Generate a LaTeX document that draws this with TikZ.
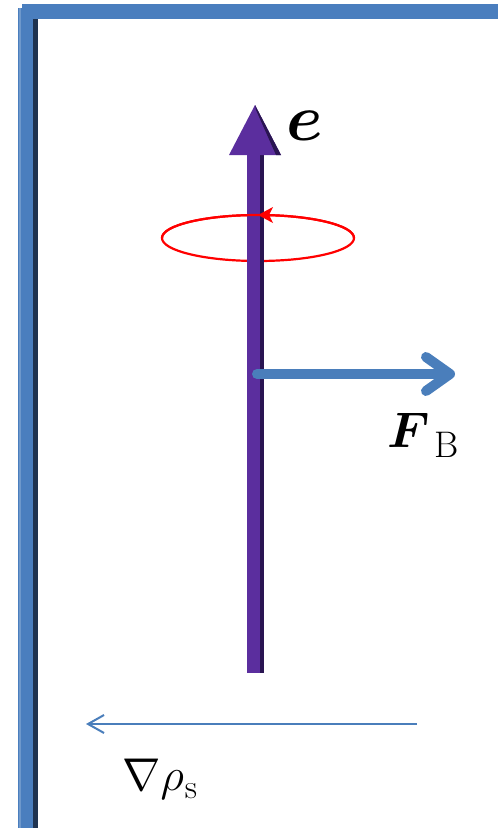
\RequirePackage{fix-cm}
\documentclass[tikz,border=0pt]{standalone}
\usepackage{amsmath,bm}
\usetikzlibrary{arrows.meta}
\definecolor{frameblue}{HTML}{4A7EBE}
\definecolor{framedark}{HTML}{1F3350}
\definecolor{arrowblue}{HTML}{4A7EBB}
\definecolor{rodpurple}{HTML}{5B2E9E}
\definecolor{roddark}{HTML}{2A1552}
\tikzset{
  force/.style={draw=arrowblue, line width=10pt, line cap=round,
    -{Straight Barb[length=24pt, width=34pt, line width=10pt, round]}},
  grad/.style={draw=arrowblue, line width=2pt,
    -{Straight Barb[length=16pt, width=18pt, line width=2pt]}},
  lab/.style={inner sep=0pt, anchor=base west},
}
\begin{document}
\begin{tikzpicture}[x=1pt,y=-1pt]
\useasboundingbox (0,0) rectangle (498,830);
% frame
\fill[frameblue] (22,4) rectangle (498,19);
\fill[frameblue] (18,8) rectangle (38,828);
\fill[framedark] (33,19) rectangle (38,828);
\fill[frameblue!80!white] (19,8) rectangle (21,828);
% ellipse back part (behind rod)
\draw[red, line width=2.2pt] (258,238) ellipse [x radius=96, y radius=23];
% rod
\coordinate (rodbot) at (255,673);
\coordinate (rodtop) at (255,105);
\fill[rodpurple] (247,155) rectangle (264,673);
\fill[roddark] (260,155) rectangle (264,673);
\fill[rodpurple] (rodtop) -- (281,155) -- (229,155) -- cycle;
\fill[roddark] (rodtop) -- (281,155) -- (276,155) -- (256,110) -- cycle;
% ellipse front part over rod, and its arrowhead
\draw[red, line width=2.2pt] (162,238) arc[start angle=180, end angle=360, x radius=96, y radius=23];
\fill[red] (258,215) -- (273,207) -- (269,215) -- (273,223) -- cycle;
% force arrow
\coordinate (fstart) at (257,374);
\coordinate (fend) at (455,374);
\draw[force] (fstart) -- (fend);
% gradient arrow
\coordinate (gstart) at (417,724);
\coordinate (gend) at (86,724);
\draw[grad] (gstart) -- (gend);
% labels
\node[lab] (elab) at (286,140) {\fontsize{66}{66}\selectfont$\bm{e}$};
\node[lab] (flab) at (387,447) {\fontsize{50}{50}\selectfont$\bm{F}$\hspace{5pt}\raisebox{-10pt}{\fontsize{37}{37}\selectfont B}};
\node[lab] (glab) at (122,790) {\fontsize{46}{46}\selectfont$\nabla\rho$\hspace{1pt}\raisebox{-8pt}{\fontsize{34}{34}\selectfont s}};
\end{tikzpicture}
\end{document}
